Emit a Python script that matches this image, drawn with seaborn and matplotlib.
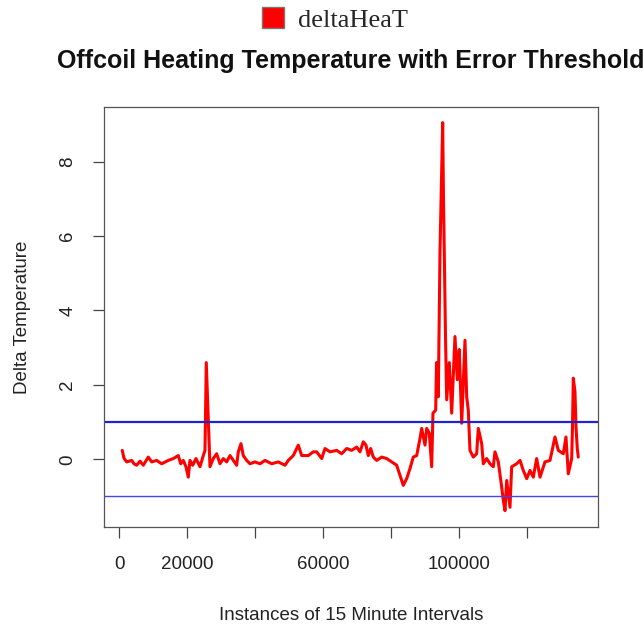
import numpy as np
import pandas as pd
import seaborn as sns
import matplotlib.pyplot as plt
from matplotlib.patches import Patch

# Valores (instância, delta de temperatura)
instances = [880, 1380, 2180, 3650, 4330, 5120, 6100, 7070, 8540, 9540,
             11010, 12490, 14430, 15900, 17380, 18080, 18850, 19640, 20320, 20820,
             21620, 22590, 23770, 24740, 25240, 25620, 26710, 27680, 28680, 29660,
             30630, 31630, 32600, 33570, 34570, 35050, 35840, 36520, 37520, 38490,
             39960, 41440, 42910, 44880, 46830, 48800, 49770, 51240, 52720, 53720,
             55660, 57130, 58130, 59610, 60580, 62050, 64020, 65500, 66970, 68440,
             69910, 70890, 71860, 72650, 73330, 74040, 74800, 75800, 77280, 78750,
             80220, 81690, 82670, 83640, 84640, 85610, 86580, 87580, 88560, 89060,
             90030, 90530, 91300, 92000, 92380, 93180, 93420, 93950, 94450, 95240,
             95480, 95770, 96070, 96420, 97190, 97890, 98860, 99540, 100130, 100840,
             101810, 102310, 102780, 103280, 104250, 105250, 105730, 106730, 107200, 108200,
             109170, 110140, 110640, 111620, 112620, 113090, 113590, 114090, 115060, 115560,
             117030, 118010, 118980, 119980, 120950, 121920, 122920, 123900, 125370, 126840,
             128310, 129290, 130760, 131550, 132230, 133230, 133470, 133710, 134200, 134500,
             134880, 135170]
delta_heat = [0.24, 0.03, -0.07, -0.03, -0.12, -0.16, -0.05, -0.16, 0.06, -0.07,
              -0.03, -0.12, -0.03, 0.02, 0.1, -0.12, -0.03, -0.2, -0.48, -0.03,
              -0.16, 0.02, -0.2, 0.1, 0.24, 2.6, -0.2, 0.02, 0.15, -0.12,
              0.02, -0.07, 0.1, -0.03, -0.16, 0.2, 0.42, 0.1, -0.03, -0.12,
              -0.07, -0.12, -0.03, -0.12, -0.07, -0.16, -0.03, 0.1, 0.38, 0.1,
              0.1, 0.2, 0.2, 0.02, 0.29, 0.2, 0.24, 0.15, 0.29, 0.24,
              0.33, 0.2, 0.47, 0.38, 0.1, 0.29, 0.06, -0.03, 0.06, 0.02,
              -0.07, -0.16, -0.43, -0.7, -0.52, -0.25, 0.06, 0.1, 0.56, 0.83,
              0.38, 0.83, 0.7, -0.2, 1.24, 1.32, 2.6, 1.68, 5.6, 9.05,
              7.0, 5.1, 3.3, 1.6, 2.6, 1.24, 3.3, 2.14, 2.95, 0.97,
              3.2, 1.68, 1.32, 0.24, 0.06, 0.15, 0.83, 0.42, -0.12, 0.02,
              -0.12, -0.2, 0.2, -0.07, -0.75, -1.1, -1.38, -0.57, -1.29, -0.2,
              -0.12, -0.03, -0.3, -0.52, -0.3, -0.48, 0.02, -0.48, -0.07, -0.03,
              0.6, 0.24, 0.15, 0.6, -0.39, 0.02, 0.9, 2.18, 1.82, 0.87,
              0.29, 0.06]
thresholds = [1, -1]
x_ticks = [0, 20000, 40000, 60000, 80000, 100000, 120000]
x_tick_labels = ['0', '20000', '', '60000', '', '100000', '']
y_ticks = [0, 2, 4, 6, 8]

df = pd.DataFrame({'instance': instances, 'deltaHeaT': delta_heat})

sns.set_theme(style='white')
plt.rcParams['font.family'] = ['Liberation Sans', 'DejaVu Sans']

fig = plt.figure(figsize=(6.44, 6.28), dpi=100)
ax = fig.add_axes([104 / 644, 1 - 527 / 628, 494 / 644, 420 / 628])

sns.lineplot(data=df, x='instance', y='deltaHeaT', color='red', linewidth=2.2,
             estimator=None, sort=False, ax=ax)
ax.axhline(thresholds[0], color='#2222cc', linewidth=1.6)
ax.axhline(thresholds[1], color='#4444ee', linewidth=1.0)

ax.set_xlim(-4500, 140980)
ax.set_ylim(-1.82, 9.47)
ax.set_xticks(x_ticks)
ax.set_xticklabels(x_tick_labels)
ax.set_yticks(y_ticks)
ax.set_yticklabels([str(v) for v in y_ticks], rotation=90, va='center')
ax.tick_params(axis='both', direction='out', length=8, width=0.9, color='#444444',
               labelsize=13.5, labelcolor='#222222', bottom=True, left=True)
ax.tick_params(axis='x', pad=13)
ax.tick_params(axis='y', pad=12)
for spine in ax.spines.values():
    spine.set_color('#555555')
    spine.set_linewidth(0.9)

ax.set_xlabel('Instances of 15 Minute Intervals', fontsize=13.5, color='#222222', labelpad=24)
ax.set_ylabel('Delta Temperature', fontsize=13.5, color='#222222', labelpad=20)
ax.set_title('Offcoil Heating Temperature with Error Threshold', fontsize=18,
             fontweight='bold', color='#111111', pad=28)

fig.legend(handles=[Patch(facecolor='red', edgecolor='#777777', label='deltaHeaT')],
           loc='upper center', bbox_to_anchor=(0.52, 1.014), frameon=False,
           handlelength=0.85, handleheight=0.85, handletextpad=0.5, borderpad=0.1,
           prop={'family': 'Liberation Serif', 'size': 19})

plt.savefig('out.png', dpi=100)
